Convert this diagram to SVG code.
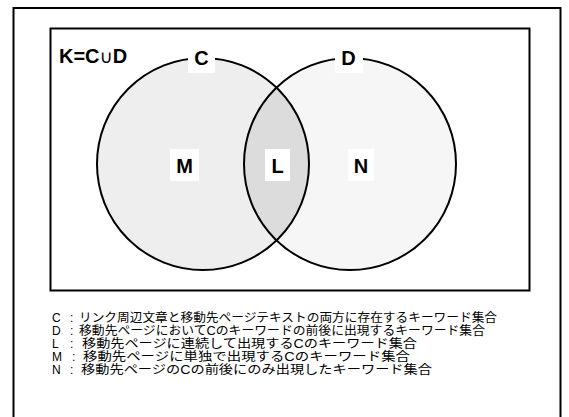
<svg xmlns="http://www.w3.org/2000/svg" width="569" height="417" viewBox="0 0 569 417">
<style>
.frame{fill:none;stroke:#000;stroke-width:2}
.ring{fill:none;stroke:#000;stroke-width:2}
.lbl{font-family:"Liberation Sans",Arial,sans-serif;font-weight:bold;font-size:20px;fill:#000;text-anchor:middle}
.box{fill:#fff}
.leg{font-family:"Liberation Sans","Noto Sans CJK JP",sans-serif;font-size:12px;fill:#000}
</style>
<rect x="0" y="0" width="569" height="417" fill="#fff"/>
<rect class="frame" x="13.5" y="8" width="547" height="420"/>
<rect class="frame" x="50.5" y="28.5" width="479" height="262"/>
<g id="setC">
<circle cx="203" cy="164" r="106" fill="#eeeeee"/>
</g>
<g id="setD">
<circle cx="350" cy="164" r="106" fill="#f6f6f6"/>
</g>
<g id="setL">
<path d="M276.5 87.62 A106 106 0 0 0 276.5 240.38 A106 106 0 0 0 276.5 87.62 Z" fill="#dcdcdc"/>
</g>
<g id="outlines">
<circle class="ring" cx="203" cy="164" r="106"/>
<circle class="ring" cx="350" cy="164" r="106"/>
</g>
<g id="labels">
<text x="59" y="63" class="lbl" style="text-anchor:start">K=C<tspan font-weight="normal" font-family="DejaVu Sans,sans-serif" font-size="18">∪</tspan>D</text>
<rect class="box" x="188" y="48" width="27" height="25"/>
<text x="201.5" y="65" class="lbl">C</text>
<rect class="box" x="335" y="48" width="28" height="25"/>
<text x="348.5" y="65" class="lbl">D</text>
<rect class="box" x="170" y="149" width="29" height="32"/>
<text x="184.5" y="173" class="lbl">M</text>
<rect class="box" x="265" y="149" width="25" height="32"/>
<text x="277.5" y="173" class="lbl">L</text>
<rect class="box" x="348" y="149" width="26" height="32"/>
<text x="361" y="173" class="lbl">N</text>
</g>
<g id="legend">
<text class="leg" y="321.5"><tspan x="52">C</tspan><tspan x="70">:</tspan><tspan x="79" textLength="418" lengthAdjust="spacingAndGlyphs">リンク周辺文章と移動先ページテキストの両方に存在するキーワード集合</tspan></text>
<text class="leg" y="334.5"><tspan x="52">D</tspan><tspan x="70">:</tspan><tspan x="79" textLength="406" lengthAdjust="spacingAndGlyphs">移動先ページにおいてCのキーワードの前後に出現するキーワード集合</tspan></text>
<text class="leg" y="347.5"><tspan x="52">L</tspan><tspan x="70">:</tspan><tspan x="82" textLength="335" lengthAdjust="spacingAndGlyphs">移動先ページに連続して出現するCのキーワード集合</tspan></text>
<text class="leg" y="360.5"><tspan x="52">M</tspan><tspan x="72">:</tspan><tspan x="83" textLength="327" lengthAdjust="spacingAndGlyphs">移動先ページに単独で出現するCのキーワード集合</tspan></text>
<text class="leg" y="373.5"><tspan x="52">N</tspan><tspan x="70">:</tspan><tspan x="81" textLength="351" lengthAdjust="spacingAndGlyphs">移動先ページのCの前後にのみ出現したキーワード集合</tspan></text>
</g>
</svg>
